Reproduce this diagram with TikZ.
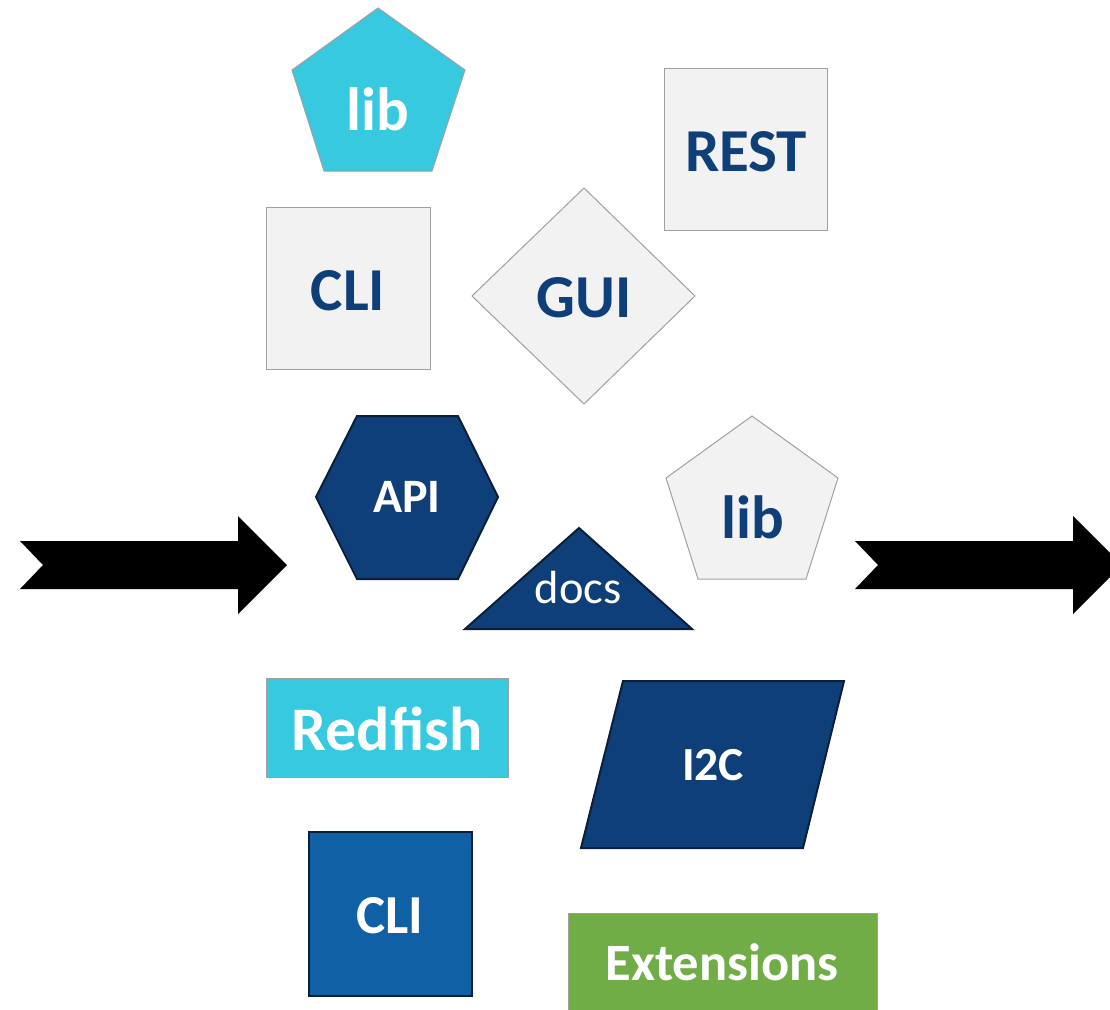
\documentclass[tikz,border=0pt]{standalone}
\usepackage{fontspec}
\setmainfont{Carlito}
\definecolor{skyfill}{HTML}{36C9E0}
\definecolor{paperfill}{HTML}{F2F2F2}
\definecolor{paperline}{HTML}{A0A0A0}
\definecolor{navy}{HTML}{0F3F78}
\definecolor{navyline}{HTML}{0A1F3C}
\definecolor{midblue}{HTML}{1060A6}
\definecolor{leaf}{HTML}{70AD47}
\tikzset{
  light/.style={fill=paperfill, draw=paperline, line width=1pt, line join=miter},
  sky/.style={fill=skyfill, draw=paperline, line width=1pt},
  dark/.style={fill=navy, draw=navyline, line width=2pt, line join=miter},
  blueshape/.style={fill=midblue, draw=navyline, line width=2.5pt},
  greenshape/.style={fill=leaf, draw=paperline, line width=1pt},
  bigarrow/.style={fill=black, draw=none},
  label/.style={anchor=base, inner sep=0pt, font=\bfseries\fontsize{61}{61}\selectfont},
  onlight/.style={label, text=navy},
  ondark/.style={label, text=white},
}
\begin{document}
\begin{tikzpicture}[x=1pt, y=-1pt]
\useasboundingbox (0,0) rectangle (1110,1009);
\clip (0,0) rectangle (1110,1009);

% flow arrows
\fill[bigarrow] (20,541) -- (43,565) -- (20,589) -- (238,589) -- (238,614)
  -- (287,565) -- (238,516) -- (238,541) -- cycle;
\fill[bigarrow] (855,541) -- (878,565) -- (855,589) -- (1073,589) -- (1073,614)
  -- (1122,565) -- (1073,516) -- (1073,541) -- cycle;

% upper group
\draw[sky] (378,8) -- (465,70) -- (432,171) -- (324,171) -- (292,70) -- cycle;
\node[ondark] (libtop) at (378,130) {lib};

\draw[light] (664,68) rectangle (827,230);
\node[onlight] (rest) at (746,171) {REST};

\draw[light] (266,207) rectangle (430,369);
\node[onlight] (clitop) at (348,310) {CLI};

\draw[light] (584,188) -- (695,296) -- (584,404) -- (472,296) -- cycle;
\node[onlight] (gui) at (584,317) {GUI};

% middle group
\draw[dark] (357,416) -- (458,416) -- (498,497) -- (458,579) -- (357,579) -- (316,497) -- cycle;
\node[ondark, font=\bfseries\fontsize{48}{48}\selectfont] (api) at (407,512) {API};

\draw[dark] (579,528) -- (692,629) -- (465,629) -- cycle;
\node[ondark, font=\mdseries\fontsize{46.5}{46.5}\selectfont] (docs) at (578,603) {docs};

\draw[light] (752,416) -- (838,478) -- (806,579) -- (698,579) -- (666,478) -- cycle;
\node[onlight] (libmid) at (753,538) {lib};

% lower group
\draw[sky] (266,678) rectangle (508,777);
\node[ondark, font=\bfseries\fontsize{62}{62}\selectfont] (redfish) at (387,750) {Redfish};

\draw[dark] (623,681) -- (844,681) -- (803,848) -- (581,848) -- cycle;
\node[ondark, font=\bfseries\fontsize{47.5}{47.5}\selectfont] (i2c) at (713,780) {I2C};

\draw[blueshape] (309,832) rectangle (472,996);
\node[ondark, font=\bfseries\fontsize{55}{55}\selectfont] (clibot) at (390,933) {CLI};

\draw[greenshape] (568,913) rectangle (877,1012);
\node[ondark, font=\bfseries\fontsize{52.5}{52.5}\selectfont] (ext) at (722,980) {Extensions};
\end{tikzpicture}
\end{document}
